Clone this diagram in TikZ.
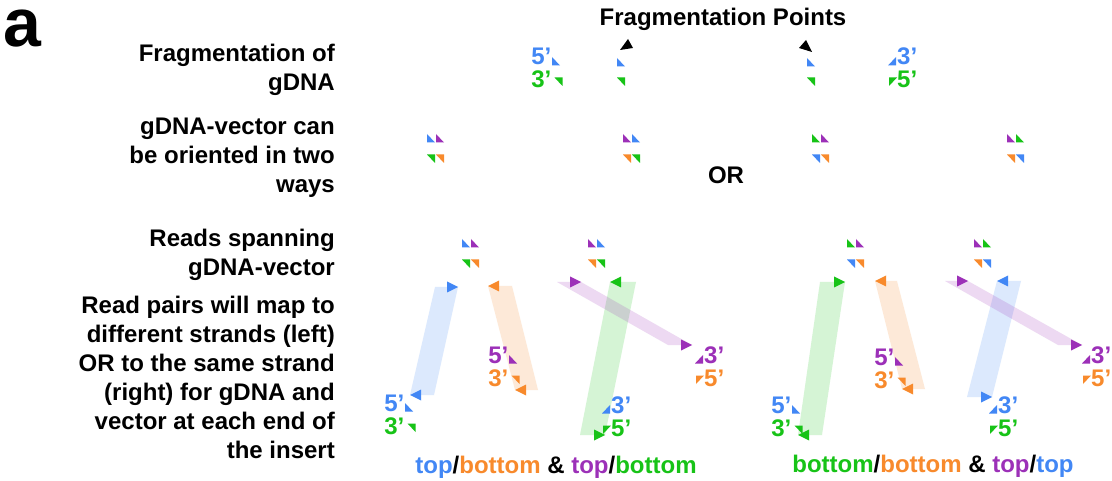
\documentclass[tikz,border=0pt]{standalone}
\usepackage{fontspec}
\setmainfont{Liberation Sans}
\definecolor{cblue}{HTML}{4287F5}
\definecolor{corange}{HTML}{F88A2C}
\definecolor{cgreen}{HTML}{17C317}
\definecolor{cpurple}{HTML}{9C30B8}
\tikzset{
  lbl/.style={font=\fontsize{24}{29}\selectfont\bfseries, inner sep=0pt},
  mkbl/.pic={\fill (0,0) -- (0,8.5) -- (8,8.5) -- cycle;},
  mktr/.pic={\fill (0,0) -- (8,0) -- (8,8.5) -- cycle;},
  mkbr/.pic={\fill (8,0) -- (8,8.5) -- (0,8.5) -- cycle;},
  mktl/.pic={\fill (0,0) -- (8,0) -- (0,8.5) -- cycle;},
  arR/.pic={\fill (0,0) -- (-11,-5.5) -- (-11,5.5) -- cycle;},
  arL/.pic={\fill (0,0) -- (11,-5.5) -- (11,5.5) -- cycle;},
  bandfill/.style={fill opacity=0.18}
}
\newcommand\mkLgrp[5]{%
  \node[lbl,text=#4,anchor=base east] (#1a) at (#2+1.5,#3) {5’};
  \node[lbl,text=#5,anchor=base east] (#1b) at (#2+1.5,#3+23) {3’};
  \pic[#4] at (#2+2,#3-8) {mkbl};
  \pic[#5] at (#2+4.5,#3+12.5) {mktr};
}
\newcommand\mkRgrp[5]{%
  \node[lbl,text=#4,anchor=base west] (#1a) at (#2-1,#3) {3’};
  \node[lbl,text=#5,anchor=base west] (#1b) at (#2-1,#3+23) {5’};
  \pic[#4] at (#2-10,#3-8) {mkbr};
  \pic[#5] at (#2-9,#3+12.5) {mktl};
}
\newcommand\mkPair[6]{%
  \pic[#3] at (#1,#2) {mkbl};
  \pic[#4] at (#1+9,#2) {mkbl};
  \pic[#5] at (#1,#2+20.5) {mktr};
  \pic[#6] at (#1+9,#2+20.5) {mktr};
}
\newcommand\mkBand[8]{%
  \coordinate (#1tl) at (#3,#5);
  \coordinate (#1tr) at (#4,#5);
  \coordinate (#1bl) at (#6,#8);
  \coordinate (#1br) at (#7,#8);
  \fill[#2,bandfill] (#1tl) -- (#1tr) -- (#1br) -- (#1bl) -- cycle;
}
\begin{document}
\begin{tikzpicture}[x=1pt,y=-1pt]
\fill[white] (0,0) rectangle (1112,481);
\useasboundingbox (0,0) rectangle (1112,481);

% panel letter
\node[font=\fontsize{68}{68}\selectfont\bfseries, inner sep=0pt, text height=37pt, text depth=0pt, anchor=base west] (pa) at (3,47) {a};

% left labels
\node[lbl,anchor=base east] (l1a) at (335,62) {Fragmentation of};
\node[lbl,anchor=base east] (l1b) at (335,91) {gDNA};
\node[lbl,anchor=base east] (l2a) at (335,135) {gDNA-vector can};
\node[lbl,anchor=base east] (l2b) at (335,164) {be oriented in two};
\node[lbl,anchor=base east] (l2c) at (335,193) {ways};
\node[lbl,anchor=base east] (l3a) at (335,247) {Reads spanning};
\node[lbl,anchor=base east] (l3b) at (335,276) {gDNA-vector};
\node[lbl,anchor=base east] (l4a) at (335,313) {Read pairs will map to};
\node[lbl,anchor=base east] (l4b) at (335,342) {different strands (left)};
\node[lbl,anchor=base east] (l4c) at (335,371) {OR to the same strand};
\node[lbl,anchor=base east] (l4d) at (335,400) {(right) for gDNA and};
\node[lbl,anchor=base east] (l4e) at (335,429) {vector at each end of};
\node[lbl,anchor=base east] (l4f) at (335,458) {the insert};

% title and OR
\node[lbl,anchor=base] (title) at (723,26) {Fragmentation Points};
\node[lbl,anchor=base] (or) at (726,184) {OR};

% fragmentation arrows
\fill (628,39) -- (620,50) -- (633,48) -- cycle;
\fill (806,40) -- (799,48) -- (812,52) -- cycle;

% row 1
\mkLgrp{f1}{550}{65}{cblue}{cgreen}
\mkRgrp{f2}{898}{65}{cblue}{cgreen}
\pic[cblue] at (617,58) {mkbl};
\pic[cgreen] at (617,77.5) {mktr};
\pic[cblue] at (807,58) {mkbl};
\pic[cgreen] at (807,77.5) {mktr};

% row 2
\mkPair{427}{134}{cblue}{cpurple}{cgreen}{corange}
\mkPair{623}{134}{cpurple}{cblue}{corange}{cgreen}
\mkPair{812}{134}{cgreen}{cpurple}{cblue}{corange}
\mkPair{1007}{134}{cpurple}{cgreen}{corange}{cblue}

% row 3
\mkPair{462}{239}{cblue}{cpurple}{cgreen}{corange}
\mkPair{588}{239}{cpurple}{cblue}{corange}{cgreen}
\mkPair{847}{239}{cgreen}{cpurple}{cblue}{corange}
\mkPair{974}{239}{cpurple}{cgreen}{corange}{cblue}

% bands (reads)
\mkBand{b1}{cblue}{435}{458}{287}{410}{434}{395}
\mkBand{b2}{corange}{488}{512}{286}{515}{538}{390}
\mkBand{b4}{cgreen}{610}{636}{282}{580}{605}{435}
\mkBand{b3}{cpurple}{557}{581}{282}{668}{692}{345}
\mkBand{b5}{cgreen}{820}{845}{282}{798}{822}{435}
\mkBand{b6}{corange}{875}{897}{281}{902}{925}{389}
\mkBand{b8}{cblue}{997}{1021}{281}{967}{992}{397}
\mkBand{b7}{cpurple}{945}{968}{281}{1058}{1082}{345}

% read arrowheads
\pic[cblue] at (b1tr) {arR};
\pic[cblue] at (b1bl) {arL};
\pic[corange] at (b2tl) {arL};
\pic[corange] at (b2bl) {arL};
\pic[cpurple] at (b3tr) {arR};
\pic[cpurple] at (b3br) {arR};
\pic[cgreen] at (b4tl) {arL};
\pic[cgreen] at (b4br) {arR};
\pic[cgreen] at (b5tr) {arR};
\pic[cgreen] at (b5bl) {arL};
\pic[corange] at (b6tl) {arL};
\pic[corange] at (b6bl) {arL};
\pic[cpurple] at (b7tr) {arR};
\pic[cpurple] at (b7br) {arR};
\pic[cblue] at (b8tl) {arL};
\pic[cblue] at (b8br) {arR};

% end labels
\mkLgrp{e1}{403}{411}{cblue}{cgreen}
\mkLgrp{e2}{507}{363}{cpurple}{corange}
\mkRgrp{e3}{705}{363}{cpurple}{corange}
\mkRgrp{e4}{612}{413}{cblue}{cgreen}
\mkLgrp{e5}{790}{413}{cblue}{cgreen}
\mkLgrp{e6}{893}{365}{cpurple}{corange}
\mkRgrp{e7}{1092}{363}{cpurple}{corange}
\mkRgrp{e8}{999}{413}{cblue}{cgreen}

% legends
\node[lbl,anchor=base] (leg1) at (556,473) {\textcolor{cblue}{top}/\textcolor{corange}{bottom} \& \textcolor{cpurple}{top}/\textcolor{cgreen}{bottom}};
\node[lbl,anchor=base] (leg2) at (933,472) {\textcolor{cgreen}{bottom}/\textcolor{corange}{bottom} \& \textcolor{cpurple}{top}/\textcolor{cblue}{top}};
\end{tikzpicture}
\end{document}
